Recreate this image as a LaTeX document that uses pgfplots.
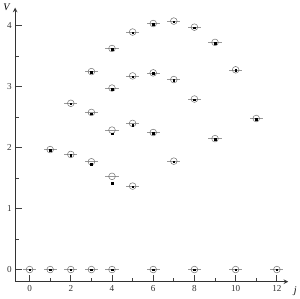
\documentclass[border=0pt]{standalone}
\usepackage{fontspec}
\setmainfont{Liberation Serif}
\usepackage{pgfplots}
\pgfplotsset{compat=1.18}
\begin{document}
\begin{tikzpicture}
\begin{axis}[
  scale only axis,
  width=269pt, height=270pt,
  xmin=-0.7, xmax=12.55,
  ymin=-0.2, ymax=4.3,
  axis lines=left,
  axis line style={line width=1pt, -stealth, black!80},
  tick align=inside,
  major tick length=7pt,
  minor tick length=4pt,
  every tick/.style={line width=0.9pt, black!75},
  xtick={0,2,...,12},
  minor xtick={1,3,...,11},
  ytick={0,1,2,3,4},
  minor ytick={0.5,1.5,2.5,3.5},
  /pgf/number format/assume math mode=true,
  tick label style={font=\small, text=black!80},
  every axis x label/.style={at={(axis description cs:1,0)}, anchor=north west, xshift=2pt, yshift=-1pt},
  every axis y label/.style={at={(axis description cs:0,1)}, anchor=south east, xshift=-1pt, yshift=-6pt},
  xlabel={\textit{j}},
  ylabel={\textit{V}},
  label style={font=\normalsize},
  clip=false,
]
% open circles with horizontal bars
\addplot[only marks, mark=o, mark size=3.3pt, mark options={black!55, line width=0.5pt},
  error bars/.cd, x dir=both, x fixed=0.32, error mark=none,
  error bar style={black!40, line width=0.5pt}]
  coordinates {
  (0,0) (1,0) (2,0) (3,0) (4,0) (6,0) (8,0) (10,0) (12,0)
  (1,1.97) (2,1.89) (3,1.77) (4,1.53) (5,1.37)
  (2,2.73) (3,2.58) (4,2.29) (5,2.40) (6,2.25) (7,1.78) (8,2.80) (9,2.15) (11,2.48)
  (3,3.25) (4,2.98) (5,3.18) (6,3.23) (7,3.12) (10,3.28)
  (4,3.63) (5,3.90) (6,4.04) (7,4.08) (8,3.98) (9,3.73)
  };
% filled dots
\addplot[only marks, mark=square*, mark size=0.75pt, mark options={black}]
  coordinates {
  (0,0) (1,0) (2,0) (3,0) (4,0) (6,0) (8,0) (10,0) (12,0)
  (1,1.96) (2,1.88) (3,1.73) (4,1.42) (5,1.36)
  (2,2.72) (3,2.56) (4,2.23) (5,2.37) (6,2.24) (7,1.77) (8,2.79) (9,2.14) (11,2.47)
  (3,3.24) (4,2.96) (5,3.17) (6,3.22) (7,3.11) (10,3.27)
  (4,3.62) (5,3.89) (6,4.03) (7,4.07) (8,3.97) (9,3.72)
  };
\end{axis}
\end{tikzpicture}
\end{document}
